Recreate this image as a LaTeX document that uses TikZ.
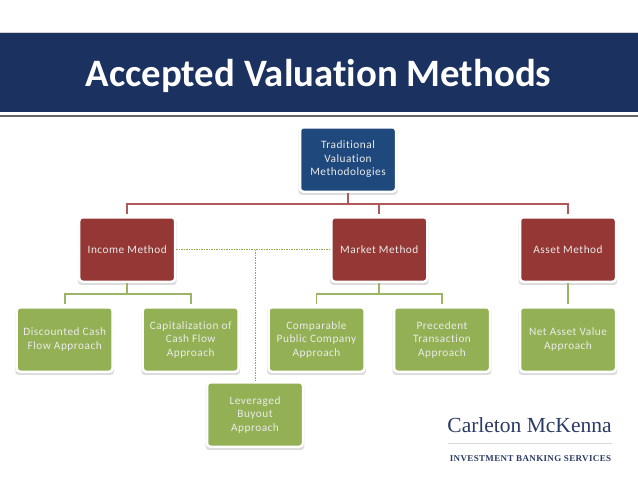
\documentclass[tikz,border=0pt]{standalone}
\usepackage{fontspec}
\setmainfont[Ligatures=NoCommon]{Carlito}
\newfontfamily\boxfont[LetterSpace=4.5,Ligatures=NoCommon]{Carlito}
\newfontfamily\logofont{Liberation Serif}
\newfontfamily\svcfont[LetterSpace=4]{Liberation Serif}
\usetikzlibrary{shadows}
\definecolor{navy}{HTML}{1B3160}
\definecolor{topblue}{HTML}{1F497D}
\definecolor{brick}{HTML}{953735}
\definecolor{leaf}{HTML}{93B055}
\definecolor{redline}{HTML}{B0595A}
\definecolor{greenline}{HTML}{9BB565}
\definecolor{dotgreen}{HTML}{8DB043}
\definecolor{logoblue}{HTML}{2B3B66}
\tikzset{
  x=1pt,y=-1pt,
  card/.style={rectangle,rounded corners=3.5pt,draw=white,line width=2.5pt,
    minimum width=96pt,minimum height=64.5pt,inner sep=0pt,align=center,text=white!92!black,
    font=\boxfont\fontsize{11.3}{13.5}\selectfont,
    drop shadow={shadow xshift=0pt,shadow yshift=-2.2pt,shadow scale=1.03,opacity=.2,fill=black!70}},
  topcard/.style={card,fill=topblue},
  midcard/.style={card,fill=brick},
  leafcard/.style={card,fill=leaf},
  redlink/.style={draw=redline,line width=1.7pt},
  greenlink/.style={draw=greenline,line width=1.7pt},
  dotlink/.style={draw=dotgreen,line width=1pt,dash pattern=on 1.5pt off 1pt},
}
\begin{document}
\begin{tikzpicture}
\useasboundingbox (0,0) rectangle (638,479);
% header
\fill[navy] (0,32) rectangle (638,112);
\draw[gray!35,line width=.6pt] (0,32) -- (638,32);
\fill[black!60] (0,115) rectangle (638,117);
\node[text=white,font=\bfseries\fontsize{38.8}{42}\selectfont,inner sep=0pt] (title) at (318.5,76) {Accepted Valuation Methods};
% cards
\node[topcard] (top) at (348,159.5) {Traditional\\Valuation\\Methodologies};
\node[midcard] (income) at (127.2,249.5) {Income Method};
\node[midcard] (market) at (379.3,249.5) {Market Method};
\node[midcard] (asset) at (568,249.5) {Asset Method};
\node[leafcard] (dcf) at (64.7,339.5) {Discounted Cash\\Flow Approach};
\node[leafcard] (cap) at (190.7,339.5) {Capitalization of\\Cash Flow\\Approach};
\node[leafcard] (comp) at (316.5,339.5) {Comparable\\Public Company\\Approach};
\node[leafcard] (prec) at (442,339.5) {Precedent\\Transaction\\Approach};
\node[leafcard] (nav) at (568,339.5) {Net Asset Value\\Approach};
\node[leafcard] (lbo) at (255,414.5) {Leveraged\\Buyout\\Approach};
% connectors
\coordinate (redbus) at (348,204);
\coordinate (gbusA) at (127.2,294);
\coordinate (gbusB) at (379.3,294);
\coordinate (dotknee) at (lbo.north |- income.east);
\draw[redlink] (top.south) -- (redbus);
\draw[redlink,shorten >=2pt] (redbus) -| (income.north);
\draw[redlink,shorten >=2pt] (redbus) -| (market.north);
\draw[redlink,shorten >=2pt] (redbus) -| (asset.north);
\draw[greenlink] (income.south) -- (gbusA);
\draw[greenlink,shorten >=2pt] (gbusA) -| (dcf.north);
\draw[greenlink,shorten >=2pt] (gbusA) -| (cap.north);
\draw[greenlink] (market.south) -- (gbusB);
\draw[greenlink,shorten >=2pt] (gbusB) -| (comp.north);
\draw[greenlink,shorten >=2pt] (gbusB) -| (prec.north);
\draw[greenlink,shorten >=2pt] (asset.south) -- (nav.north);
\draw[dotlink] (income.east) -- (market.west);
\draw[dotlink,shorten >=1pt] (dotknee) -- (lbo.north);
% logo
\node[text=logoblue,font=\logofont\fontsize{21.5}{24}\selectfont,inner sep=0pt] (logo) at (529.5,425) {Carleton McKenna};
\coordinate (ruleL) at (448,443.5);
\coordinate (ruleR) at (612,443.5);
\draw[black!15,line width=.6pt] (ruleL) -- (ruleR);
\node[text=logoblue,font=\svcfont\bfseries\fontsize{9}{10}\selectfont,inner sep=0pt] (services) at (530.5,459) {INVESTMENT BANKING SERVICES};
\end{tikzpicture}
\end{document}
